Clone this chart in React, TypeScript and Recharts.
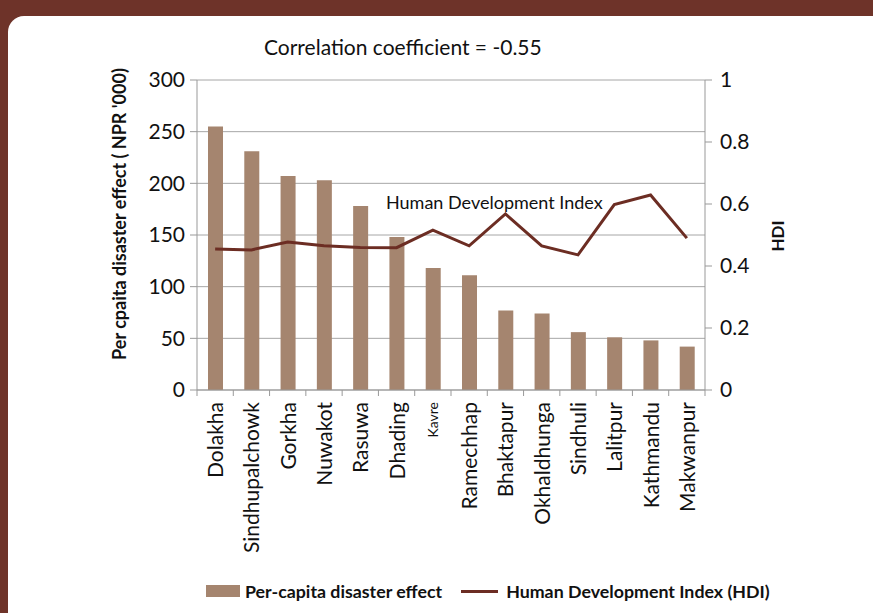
import React from 'react';
import { ComposedChart, Bar, Line, XAxis, YAxis, CartesianGrid } from 'recharts';

const districts = [
  'Dolakha', 'Sindhupalchowk', 'Gorkha', 'Nuwakot', 'Rasuwa', 'Dhading', 'Kavre',
  'Ramechhap', 'Bhaktapur', 'Okhaldhunga', 'Sindhuli', 'Lalitpur', 'Kathmandu', 'Makwanpur',
];
const perCapitaEffect = [255, 231, 207, 203, 178, 148, 118, 111, 77, 74, 56, 51, 48, 42];
const hdi = [0.455, 0.452, 0.477, 0.465, 0.46, 0.459, 0.516, 0.465, 0.568, 0.465, 0.436, 0.598, 0.629, 0.49];
const leftTicks = [0, 50, 100, 150, 200, 250, 300];
const rightTicks = [0, 0.2, 0.4, 0.6, 0.8, 1];

const data = districts.map((name, i) => ({ name, effect: perCapitaEffect[i], hdi: hdi[i] }));

const BAR_COLOR = '#a5856f';
const LINE_COLOR = '#6c2d23';
const BG = '#6e3329';
const FONT = 'Lato, "Open Sans", sans-serif';

const PLOT_LEFT = 197;
const PLOT_RIGHT = 705;
const PLOT_BOTTOM = 390;
const BAND = (PLOT_RIGHT - PLOT_LEFT) / districts.length;

const CategoryTick = (props: any) => {
  const { x, y, payload, index } = props;
  const small = payload.value === 'Kavre';
  return (
    <g>
      <line x1={x - BAND / 2} x2={x - BAND / 2} y1={PLOT_BOTTOM} y2={PLOT_BOTTOM + 6} stroke="#999" />
      {index === districts.length - 1 && (
        <line x1={x + BAND / 2} x2={x + BAND / 2} y1={PLOT_BOTTOM} y2={PLOT_BOTTOM + 6} stroke="#999" />
      )}
      <text
        x={0}
        y={0}
        transform={`translate(${x + (small ? 5 : 8)},${y + 4}) rotate(-90)`}
        textAnchor="end"
        fontSize={small ? 14 : 21}
        fill="#111"
        fontFamily={FONT}
      >
        {payload.value}
      </text>
    </g>
  );
};

export default function App() {
  return (
    <div style={{ position: 'absolute', left: 0, top: 0, width: 873, height: 613, background: BG, overflow: 'hidden', fontFamily: FONT }}>
      <div style={{ position: 'absolute', left: 8, top: 16, width: 900, height: 640, background: '#fff', borderRadius: 16 }} />
      <div style={{ position: 'absolute', left: 0, top: 0 }}>
        <ComposedChart
          width={873}
          height={613}
          data={data}
          margin={{ top: 80, right: 118, bottom: 63, left: 137 }}
        >
          <CartesianGrid vertical={false} stroke="#a6a6a6" yAxisId="left" />
          <XAxis
            dataKey="name"
            interval={0}
            height={160}
            axisLine={{ stroke: '#999' }}
            tickLine={false}
            tick={<CategoryTick />}
          />
          <YAxis
            yAxisId="left"
            domain={[0, 300]}
            ticks={leftTicks}
            width={60}
            axisLine={{ stroke: '#999' }}
            tickLine={{ stroke: '#999' }}
            tickSize={7}
            tick={{ fontSize: 21, fill: '#111', fontFamily: FONT, dx: -3 }}
          />
          <YAxis
            yAxisId="right"
            orientation="right"
            domain={[0, 1]}
            ticks={rightTicks}
            width={50}
            axisLine={{ stroke: '#999' }}
            tickLine={{ stroke: '#999' }}
            tickSize={7}
            tick={{ fontSize: 21, fill: '#111', fontFamily: FONT, textAnchor: 'start', dx: 6 }}
          />
          <Bar yAxisId="left" dataKey="effect" fill={BAR_COLOR} barSize={15} isAnimationActive={false} />
          <Line
            yAxisId="right"
            dataKey="hdi"
            stroke={LINE_COLOR}
            strokeWidth={3}
            dot={false}
            type="linear"
            isAnimationActive={false}
          />
        </ComposedChart>
      </div>
      <div style={{ position: 'absolute', left: 264, top: 34, fontSize: 21, color: '#111', whiteSpace: 'nowrap' }}>
        Correlation coefficient = -0.55
      </div>
      <div style={{ position: 'absolute', left: 386, top: 191, fontSize: 18, color: '#111', whiteSpace: 'nowrap' }}>
        Human Development Index
      </div>
      <div
        style={{
          position: 'absolute', left: 119, top: 214, transform: 'translate(-50%,-50%) rotate(-90deg)',
          whiteSpace: 'nowrap', fontSize: 18, fontWeight: 700, color: '#111',
        }}
      >
        Per cpaita disaster effect ( NPR '000)
      </div>
      <div
        style={{
          position: 'absolute', left: 777, top: 236, transform: 'translate(-50%,-50%) rotate(-90deg)',
          whiteSpace: 'nowrap', fontSize: 17, fontWeight: 700, color: '#111',
        }}
      >
        HDI
      </div>
      <div style={{ position: 'absolute', left: 206, top: 580, display: 'flex', alignItems: 'center', fontSize: 17.8, fontWeight: 700, color: '#111', whiteSpace: 'nowrap' }}>
        <span style={{ display: 'inline-block', width: 34, height: 12, background: BAR_COLOR, marginRight: 5 }} />
        <span>Per-capita disaster effect</span>
        <span style={{ display: 'inline-block', width: 37, height: 3, background: LINE_COLOR, marginLeft: 19, marginRight: 8 }} />
        <span>Human Development Index (HDI)</span>
      </div>
    </div>
  );
}
